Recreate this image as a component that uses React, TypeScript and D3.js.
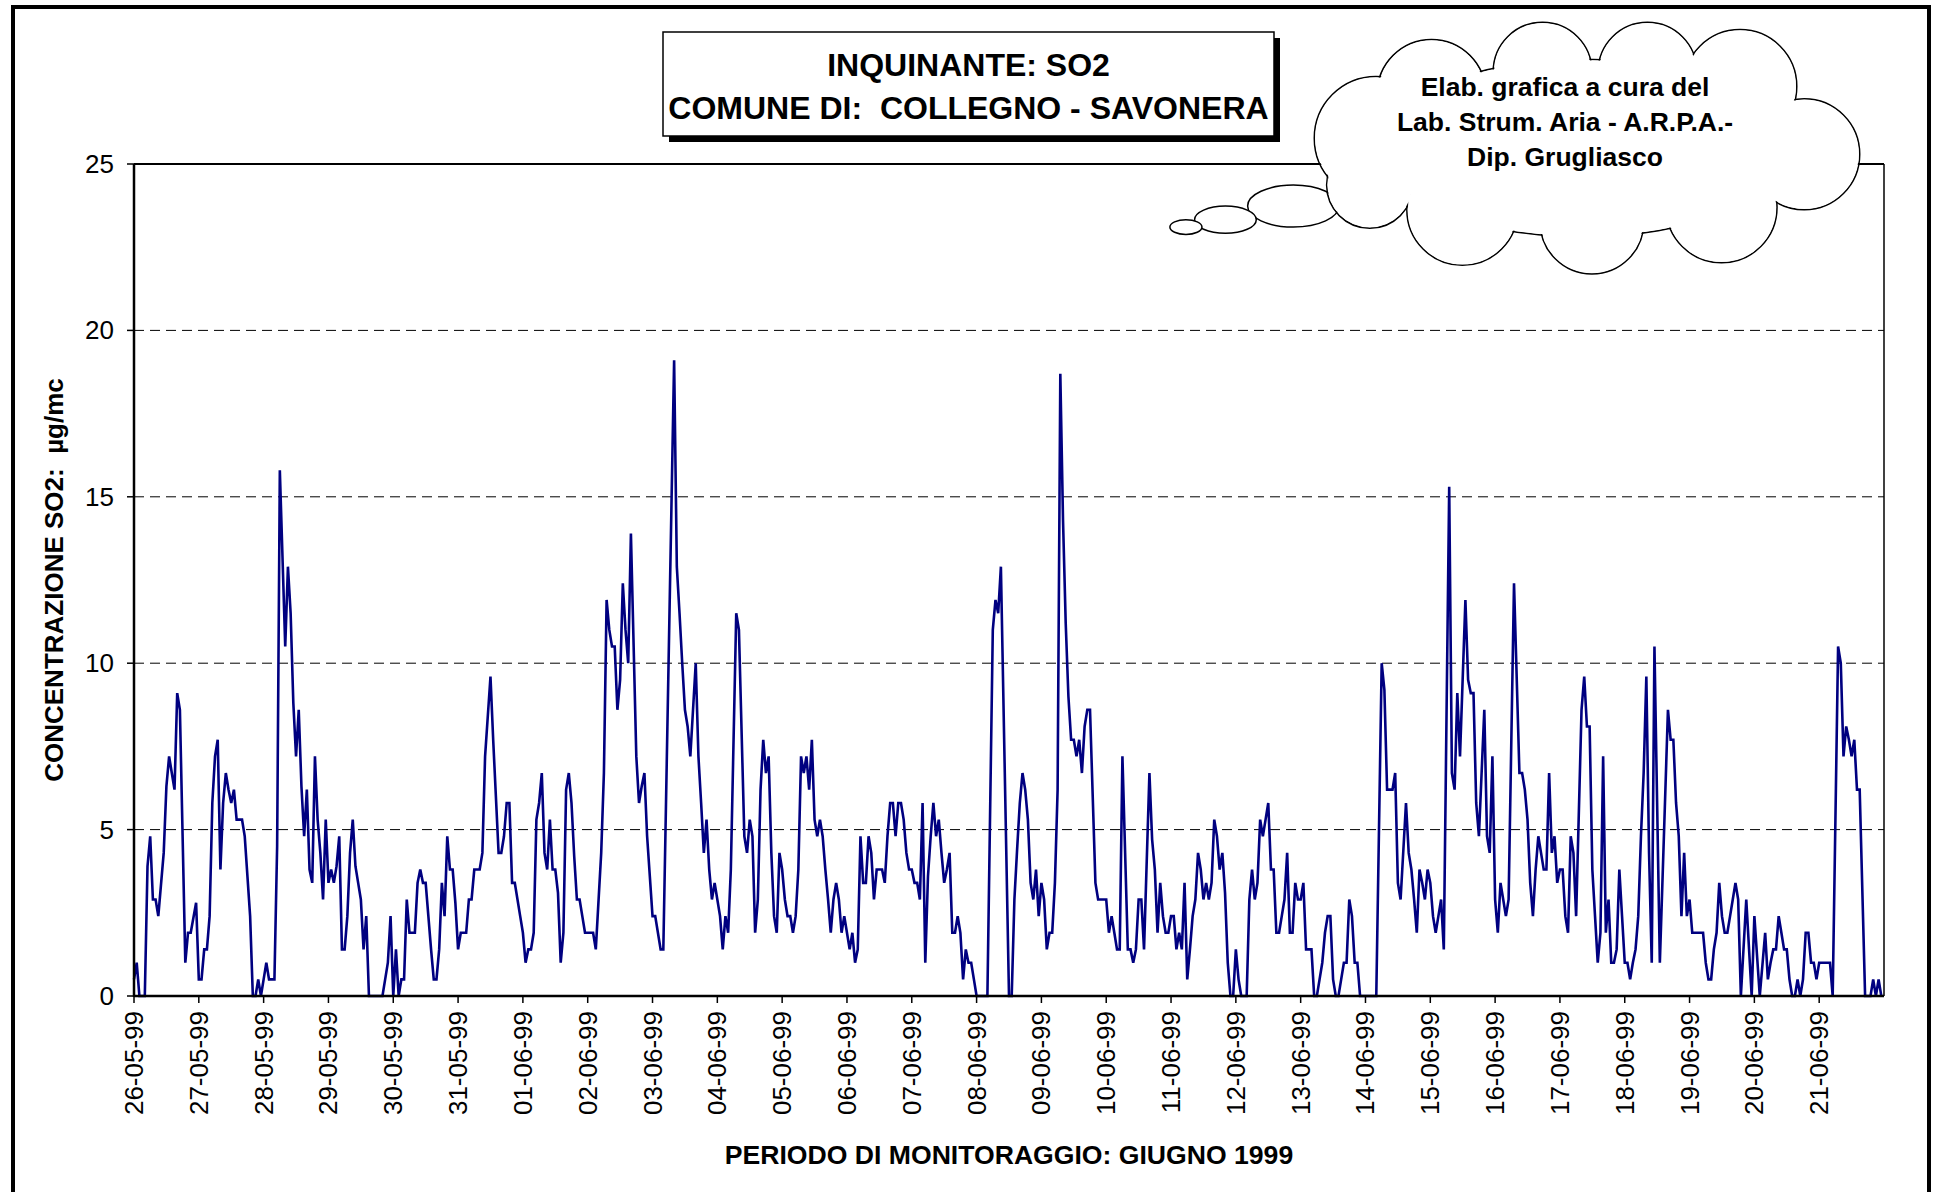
import React from 'react';
import * as d3 from 'd3';

const DAY_LABELS = [
  '26-05-99','27-05-99','28-05-99','29-05-99','30-05-99','31-05-99',
  '01-06-99','02-06-99','03-06-99','04-06-99','05-06-99','06-06-99','07-06-99',
  '08-06-99','09-06-99','10-06-99','11-06-99','12-06-99','13-06-99','14-06-99',
  '15-06-99','16-06-99','17-06-99','18-06-99','19-06-99','20-06-99','21-06-99'
];
const Y_TICKS = [0, 5, 10, 15, 20, 25];
const GRID_VALUES = [5, 10, 15, 20];

// hour index (from 26-05-99 00:00) of each vertex of the trace
const HOURS = [
  0,1,2,4,5,6,7,8,9,11,12,13,14,15,16,17,19,20,21,23,24,25,26,27,28,29,30,31,32,33,34,35,36,37,38,40,41,42,43,44,45,46,47,48,49,50,52,53,54,56,57,58,59,
  60,61,62,63,64,65,66,67,68,69,70,71,72,73,74,75,76,77,78,79,80,81,82,83,84,85,86,87,92,93,94,95,96,97,98,99,100,101,102,104,105,106,107,108,109,110,
  111,112,113,114,115,116,117,118,119,120,121,123,124,125,126,128,129,130,132,133,135,136,137,138,139,140,141,142,143,144,145,146,147,148,149,150,
  151,152,153,154,155,156,157,158,159,160,161,162,163,164,165,166,167,170,171,173,174,175,176,177,178,179,180,181,182,183,184,186,187,188,189,190,
  191,192,193,194,195,196,200,201,202,203,204,205,206,207,208,209,210,211,212,213,214,215,216,217,218,219,220,221,223,224,226,227,228,229,230,
  231,232,233,234,235,236,237,238,239,240,241,242,243,244,245,246,247,248,249,250,251,252,253,254,255,256,257,258,259,260,261,262,263,264,265,
  266,267,268,269,270,271,272,273,274,275,277,278,279,280,281,282,283,284,285,286,287,288,289,290,291,292,293,294,295,296,297,298,299,300,
  301,302,303,304,305,306,307,308,309,310,311,312,316,318,319,320,321,324,325,326,327,328,329,330,331,332,333,334,335,336,337,338,339,340,
  341,342,343,344,345,346,347,348,349,350,351,352,353,354,356,357,360,361,362,363,364,365,366,368,369,370,371,372,373,374,376,377,378,379,380,
  381,382,383,384,385,386,387,388,389,390,391,392,393,394,395,396,397,398,399,400,401,402,403,404,405,406,407,408,409,410,412,413,414,415,416,
  417,418,419,420,421,422,423,424,425,426,427,428,429,430,431,432,433,434,436,437,438,439,440,441,442,443,444,445,446,447,448,449,450,451,452,
  453,454,460,462,463,464,466,467,468,469,471,472,473,474,475,476,477,478,479,480,481,482,483,484,485,487,488,489,490,491,493,494,495,496,497,
  498,500,501,502,503,504,505,506,507,508,509,511,513,514,515,516,517,518,519,520,521,522,523,524,525,526,527,528,529,530,531,532,533,534,536,
  537,538,539,540,541,542,543,544,545,546,547,548,549,550,551,552,553,554,555,556,557,558,559,560,561,562,563,565,568,569,570,571,572,573,574,
  575,576,577,581,582,583,584,585,586,587,588,589,590,591,592,593,594,595,597,599,600,602,604,605,606,607,608,609,610,611,612,613,614,615,616,
  617,618,619,620,621,622,623,624,625,628,629,631,632,633,634,635,636,637,638,639,641,643,644,645,646,647
];

// SO2 concentration (µg/mc) at each vertex
const SO2 = [
  0.5,1.0,0,0,3.9,4.8,2.9,2.9,2.4,4.3,6.3,7.2,6.7,6.2,9.1,8.6,1.0,1.9,1.9,2.8,0.5,0.5,1.4,1.4,2.4,5.8,7.2,7.7,3.8,5.8,6.7,6.2,5.8,6.2,5.3,5.3,4.8,3.6,2.4,0,0,0.5,0,0.5,1.0,0.5,0.5,4.5,15.8,10.5,12.9,11.5,8.8,
  7.2,8.6,6.3,4.8,6.2,3.8,3.4,7.2,5.3,4.3,2.9,5.3,3.4,3.8,3.4,3.9,4.8,1.4,1.4,2.4,4.3,5.3,3.9,3.4,2.9,1.4,2.4,0,0,0.5,1.0,2.4,0,1.4,0,0.5,0.5,2.9,1.9,1.9,3.4,3.8,3.4,3.4,2.4,1.4,
  0.5,0.5,1.4,3.4,2.4,4.8,3.8,3.8,2.8,1.4,1.9,1.9,2.9,2.9,3.8,3.8,4.3,7.2,9.6,7.7,4.3,4.3,4.8,5.8,5.8,3.4,3.4,2.9,2.4,1.9,1.0,1.4,1.4,1.9,5.3,5.8,
  6.7,4.3,3.8,5.3,3.8,3.8,3.1,1.0,1.9,6.2,6.7,5.8,4.2,2.9,2.9,2.4,1.9,1.9,1.4,4.3,6.7,11.9,11.0,10.5,10.5,8.6,9.5,12.4,11.0,10.0,13.9,7.2,5.8,6.3,6.7,4.8,
  3.6,2.4,2.4,1.9,1.4,1.4,19.1,12.9,11.5,10.0,8.6,8.1,7.2,8.6,10.0,7.2,5.8,4.3,5.3,3.8,2.9,3.4,2.9,2.4,1.4,2.4,1.9,3.8,11.5,11.0,4.8,4.3,5.3,4.8,1.9,
  2.9,6.2,7.7,6.7,7.2,4.3,2.4,1.9,4.3,3.8,2.9,2.4,2.4,1.9,2.4,3.8,7.2,6.7,7.2,6.2,7.7,5.3,4.8,5.3,4.8,3.8,2.9,1.9,2.9,3.4,2.9,1.9,2.4,1.9,1.4,
  1.9,1.0,1.4,4.8,3.4,3.4,4.8,4.3,2.9,3.8,3.8,3.4,4.8,5.8,5.8,4.8,5.8,5.8,5.3,4.3,3.8,3.8,3.4,3.4,2.9,5.8,1.0,3.6,4.8,5.8,4.8,5.3,4.3,3.4,
  3.8,4.3,1.9,1.9,2.4,1.9,0.5,1.4,1.0,1.0,0.5,0,0,11.0,11.9,11.5,12.9,0,0,2.9,4.4,5.8,6.7,6.2,5.3,3.4,2.9,3.8,2.4,3.4,2.9,1.4,1.9,1.9,
  3.4,6.2,18.7,14.3,11.2,9.0,7.7,7.7,7.2,7.7,6.7,8.1,8.6,8.6,3.4,2.9,2.9,1.9,2.4,1.9,1.4,1.4,7.2,1.4,1.4,1.0,1.4,2.9,2.9,1.4,6.7,4.7,3.8,1.9,3.4,
  2.4,1.9,1.9,2.4,2.4,1.4,1.9,1.4,3.4,0.5,1.4,2.4,2.9,4.3,3.8,2.9,3.4,2.9,3.4,5.3,4.8,3.8,4.3,3.1,1.0,0,0,1.4,0.5,0,0,2.9,3.8,2.9,3.4,
  5.3,4.8,5.3,5.8,3.8,3.8,1.9,1.9,2.4,2.9,4.3,1.9,1.9,3.4,2.9,2.9,3.4,1.4,1.4,0,0,0.5,1.0,1.9,2.4,2.4,0.5,0,0,0.5,1.0,1.0,2.9,2.4,1.0,
  1.0,0,0,10.0,9.2,6.2,6.2,6.7,3.4,2.9,5.8,4.3,3.8,2.9,1.9,3.8,3.4,2.9,3.8,3.4,2.4,1.9,2.4,2.9,1.4,15.3,6.7,6.2,9.1,7.2,11.9,9.5,9.1,9.1,5.8,
  4.8,8.6,4.8,4.3,7.2,2.9,1.9,3.4,2.9,2.4,2.9,12.4,6.7,6.7,6.2,5.3,3.4,2.4,3.8,4.8,4.3,3.8,3.8,6.7,4.3,4.8,3.4,3.8,3.8,2.4,1.9,4.8,4.3,2.4,8.6,
  9.6,8.1,8.1,3.8,2.4,1.0,1.9,7.2,1.9,2.9,1.0,1.0,1.4,3.8,2.4,1.0,1.0,0.5,1.0,1.4,2.4,4.8,6.7,9.6,4.3,1.0,10.5,1.0,8.6,7.7,7.7,5.8,4.8,2.4,4.3,
  2.4,2.9,1.9,1.9,1.0,0.5,0.5,1.4,1.9,3.4,2.4,1.9,1.9,2.4,2.9,3.4,2.9,0,2.9,0,2.4,0,1.9,0.5,1.0,1.4,1.4,2.4,1.9,1.4,1.4,0.5,0,0,0.5,
  0,0.5,1.9,1.9,1.0,1.0,0.5,1.0,1.0,1.0,0,10.5,10.0,7.2,8.1,7.7,7.2,7.7,6.2,6.2,0,0,0.5,0,0.5,0
];

const FONT = "'Liberation Sans', Arial, Helvetica, sans-serif";
const K = 1935 / 1568;

export default function App() {
  const W = 1935, H = 1192;
  const left = 134, right = 1884, top = 164, bottom = 996;
  const x = d3.scaleLinear().domain([0, 648]).range([left, right]);
  const y = d3.scaleLinear().domain([0, 25]).range([bottom, top]);
  const pts: [number, number][] = HOURS.map((h, i) => [h, SO2[i]]);
  const line = d3.line<[number, number]>().x(d => x(d[0])).y(d => y(d[1]));

  // cloud lobes (shown-image coords scaled by K)
  const lobes = [
    [1115, 112, 50], [1160, 76, 44], [1250, 58, 40], [1335, 58, 40], [1410, 70, 46],
    [1462, 125, 45], [1395, 168, 45], [1290, 180, 42], [1185, 170, 45], [1110, 150, 35]
  ];
  const bubbles = [[1048, 167, 37, 17], [993, 178, 25, 11], [961, 184, 13, 6]];

  return (
    <svg width={W} height={H} viewBox={`0 0 ${W} ${H}`}
      style={{ position: 'absolute', left: 0, top: 0, display: 'block', background: '#fff' }}
      fontFamily={FONT}>
      <rect x={0} y={0} width={W} height={H} fill="#fff" />
      {/* outer frame */}
      <rect x={13} y={7} width={1916} height={1205} fill="none" stroke="#000" strokeWidth={4} />

      {/* gridlines */}
      {GRID_VALUES.map(v => (
        <line key={v} x1={left} x2={right} y1={y(v)} y2={y(v)} stroke="#000" strokeWidth={1} strokeDasharray="10,6" />
      ))}
      {/* plot frame */}
      <line x1={left} x2={right} y1={y(25)} y2={y(25)} stroke="#000" strokeWidth={2} />
      <line x1={right} x2={right} y1={top} y2={bottom} stroke="#000" strokeWidth={1.5} />

      {/* data line */}
      <path d={line(pts) || ''} fill="none" stroke="#000080" strokeWidth={2.6} strokeLinejoin="miter" strokeMiterlimit={3} />

      {/* axes */}
      <line x1={left} x2={left} y1={top} y2={bottom + 1} stroke="#000" strokeWidth={2.5} />
      <line x1={left} x2={right} y1={bottom} y2={bottom} stroke="#000" strokeWidth={2.5} />
      {Y_TICKS.map(v => (
        <g key={v}>
          <line x1={left - 7} x2={left} y1={y(v)} y2={y(v)} stroke="#000" strokeWidth={1.5} />
          <text x={left - 20} y={y(v) + 9} textAnchor="end" fontSize={26}>{v}</text>
        </g>
      ))}
      {DAY_LABELS.map((lab, i) => (
        <g key={lab}>
          <line x1={x(i * 24)} x2={x(i * 24)} y1={bottom} y2={bottom + 7} stroke="#000" strokeWidth={1.5} />
          <text transform={`translate(${x(i * 24) + 9},${bottom + 15}) rotate(-90)`} textAnchor="end" fontSize={26}>{lab}</text>
        </g>
      ))}

      {/* axis titles */}
      <text x={(left + right) / 2} y={1164} textAnchor="middle" fontSize={26.6} fontWeight="bold">PERIODO DI MONITORAGGIO: GIUGNO 1999</text>
      <text transform={`translate(63,${(top + bottom) / 2}) rotate(-90)`} textAnchor="middle" fontSize={26} fontWeight="bold" xmlSpace="preserve">CONCENTRAZIONE SO2:  µg/mc</text>

      {/* title box */}
      <rect x={669} y={38} width={611} height={104} fill="#000" />
      <rect x={663} y={32} width={611} height={104} fill="#fff" stroke="#000" strokeWidth={1.5} />
      <text x={968.5} y={76} textAnchor="middle" fontSize={32} fontWeight="bold">INQUINANTE: SO2</text>
      <text x={968.5} y={119} textAnchor="middle" fontSize={32} fontWeight="bold" xmlSpace="preserve">COMUNE DI:  COLLEGNO - SAVONERA</text>

      {/* cloud callout */}
      <g stroke="#000" strokeWidth={1.5}>
        {bubbles.map((b, i) => (
          <ellipse key={i} cx={b[0] * K} cy={b[1] * K} rx={b[2] * K} ry={b[3] * K} fill="#fff" />
        ))}
        <ellipse cx={1283 * K} cy={120 * K} rx={165 * K} ry={72 * K} fill="none" />
        {lobes.map((l, i) => (
          <circle key={'s' + i} cx={l[0] * K} cy={l[1] * K} r={l[2] * K} fill="none" />
        ))}
      </g>
      <g fill="#fff" stroke="none">
        <ellipse cx={1283 * K} cy={120 * K} rx={165 * K - 1} ry={72 * K - 1} />
        {lobes.map((l, i) => (
          <circle key={'f' + i} cx={l[0] * K} cy={l[1] * K} r={l[2] * K - 1} />
        ))}
      </g>
      <g textAnchor="middle" fontSize={26.5} fontWeight="bold">
        <text x={1565} y={96}>Elab. grafica a cura del</text>
        <text x={1565} y={131}>Lab. Strum. Aria - A.R.P.A.-</text>
        <text x={1565} y={166}>Dip. Grugliasco</text>
      </g>
    </svg>
  );
}
